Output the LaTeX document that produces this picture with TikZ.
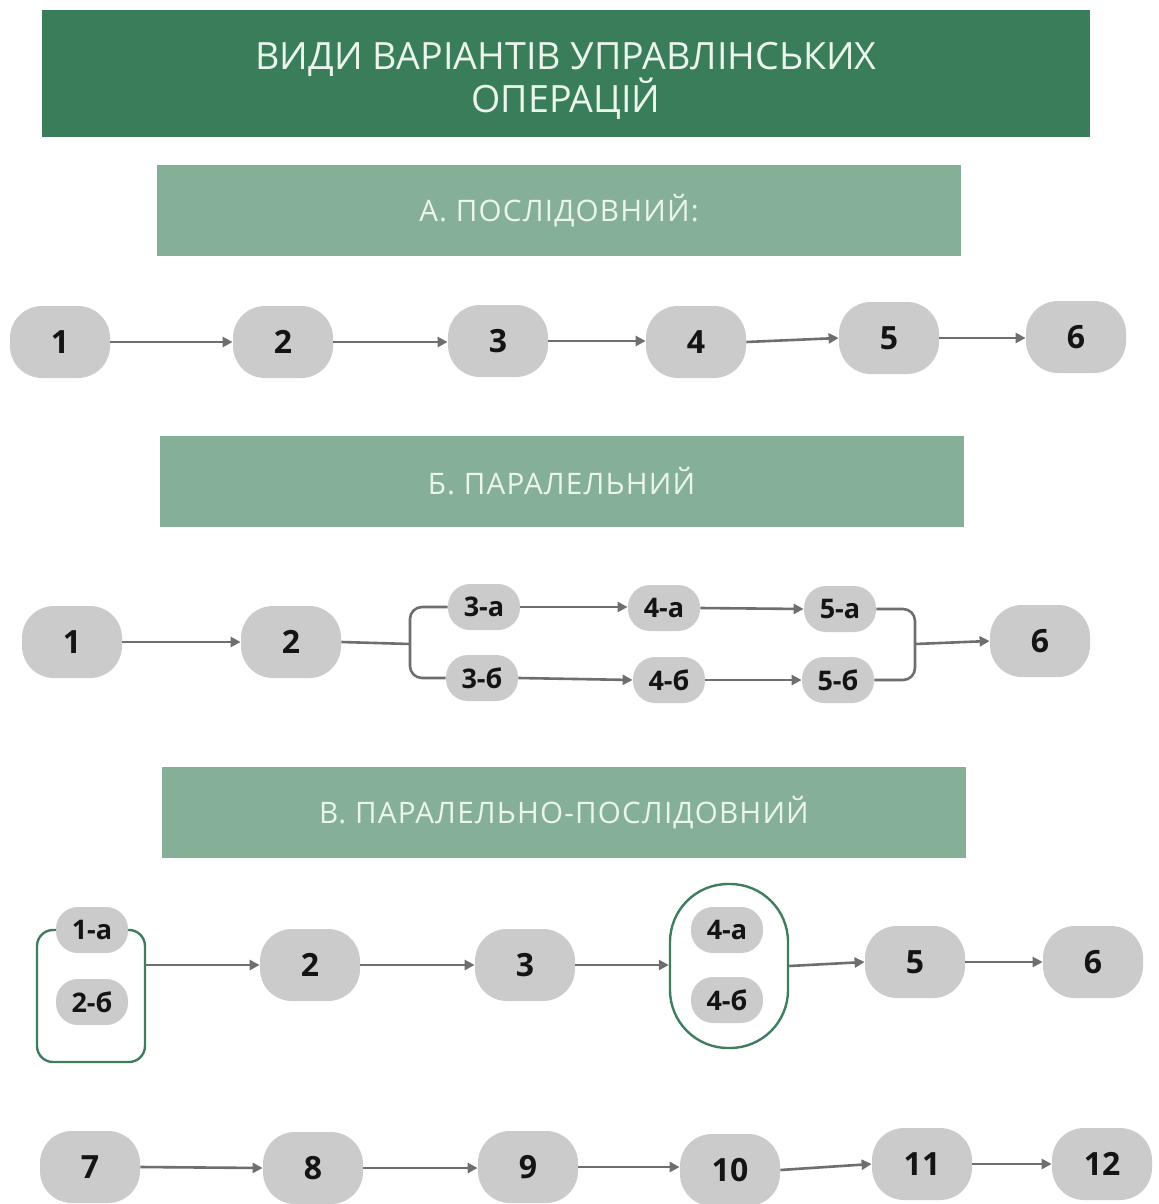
\documentclass[tikz,border=0pt]{standalone}
\usepackage{fontspec}
\setmainfont{Open Sans}
\newfontfamily\hdrfont[LetterSpace=4]{Open Sans}
\usetikzlibrary{arrows.meta}
\definecolor{dkgreen}{HTML}{3A7D5A}
\definecolor{ltgreen}{HTML}{85AF97}
\definecolor{boxgreen}{HTML}{3E7D5E}
\definecolor{nodegray}{HTML}{CBCBCB}
\definecolor{arrgray}{HTML}{6E6E6E}
\definecolor{hdrtext}{HTML}{EAF5EC}
\definecolor{numtext}{HTML}{141414}
\tikzset{
  bignode/.style={fill=nodegray, rounded corners=16pt, minimum width=50pt, minimum height=36pt, inner sep=0pt, text=numtext, font=\bfseries\fontsize{16}{16}\selectfont},
  smallnode/.style={fill=nodegray, rounded corners=11pt, minimum width=36pt, minimum height=23pt, inner sep=0pt, text=numtext, font=\bfseries\fontsize{13.5}{13.5}\selectfont},
  arr/.style={draw=arrgray, line width=1.3pt, -{Triangle[length=5pt,width=5pt]}},
  conn/.style={draw=arrgray, line width=1.3pt, rounded corners=6pt},
  sechdr/.style={fill=ltgreen, minimum width=402pt, minimum height=45.5pt, inner sep=0pt, text=hdrtext, font=\hdrfont\fontsize{14.8}{14.8}\selectfont},
  gbox/.style={draw=boxgreen, line width=1.2pt, fill=white, inner sep=0pt}
}
\begin{document}
\begin{tikzpicture}[x=0.5pt,y=-0.5pt]
\useasboundingbox (0,0) rectangle (1158,1204);
\fill[white] (0,0) rectangle (1158,1204);

% Title
\fill[dkgreen] (42,10) rectangle (1090,137);
\node[text=hdrtext, align=center, font=\fontsize{18.8}{20.5}\selectfont, inner sep=0pt] (title) at (566,81) {ВИДИ ВАРІАНТІВ УПРАВЛІНСЬКИХ\\ОПЕРАЦІЙ};

% Section A
\node[sechdr] (hA) at (559,210.5) {А. ПОСЛІДОВНИЙ:};
\node[bignode] (a1) at (60,342) {1};
\node[bignode] (a2) at (283,342) {2};
\node[bignode] (a3) at (498,341) {3};
\node[bignode] (a4) at (696,342) {4};
\node[bignode] (a5) at (889,338) {5};
\node[bignode] (a6) at (1076,337) {6};
\draw[arr] (a1.east) -- (a1 -| a2.west);
\draw[arr] (a2.east) -- (a2 -| a3.west);
\draw[arr] (a3.east) -- (a3 -| a4.west);
\draw[arr] (a4.east) -- (a5.west);
\draw[arr] (a5.east) -- (a5 -| a6.west);

% Section B
\node[sechdr] (hB) at (561.5,481.5) {Б. ПАРАЛЕЛЬНИЙ};
\node[bignode] (b1) at (72,642) {1};
\node[bignode] (b2) at (291,642) {2};
\node[bignode] (b6) at (1040,641) {6};
\node[smallnode] (b3a) at (484,607) {3-а};
\node[smallnode] (b4a) at (664,608) {4-а};
\node[smallnode] (b5a) at (840,609) {5-а};
\node[smallnode] (b3b) at (482,678) {3-б};
\node[smallnode] (b4b) at (669,680) {4-б};
\node[smallnode] (b5b) at (838,680) {5-б};
\coordinate (bl) at (410,644);
\coordinate (br) at (915,644);
\draw[arr] (b1.east) -- (b1 -| b2.west);
\draw[conn] (b2.east) -- (bl);
\draw[conn] (b3a.west) -| (bl) |- (b3b.west);
\draw[arr] (b3a.east) -- (b3a -| b4a.west);
\draw[arr] (b4a.east) -- (b5a.west);
\draw[arr] (b3b.east) -- (b4b.west);
\draw[arr] (b4b.east) -- (b4b -| b5b.west);
\draw[conn] (b5a.east) -| (br) |- (b5b.east);
\draw[arr] (br) -- (b6.west);

% Section C
\node[sechdr] (hC) at (564,812.5) {В. ПАРАЛЕЛЬНО-ПОСЛІДОВНИЙ};
\node[gbox, rounded corners=8pt, minimum width=54pt, minimum height=66pt] (cbox1) at (91,996) {};
\node[smallnode] (c1a) at (92,930) {1-а};
\node[smallnode] (c2b) at (92,1002) {2-б};
\node[bignode] (c2) at (310,965) {2};
\node[bignode] (c3) at (525,965) {3};
\node[gbox, rounded corners=29pt, minimum width=59pt, minimum height=82pt] (cbox2) at (729,966) {};
\node[smallnode] (c4a) at (727,930) {4-а};
\node[smallnode] (c4b) at (727,1000) {4-б};
\node[bignode] (c5) at (915,962) {5};
\node[bignode] (c6) at (1093,962) {6};
\draw[arr] (cbox1.east |- c2) -- (c2.west);
\draw[arr] (c2.east) -- (c3.west);
\draw[arr] (c3.east) -- (c3 -| cbox2.west);
\draw[arr] (cbox2.east) -- (c5.west);
\draw[arr] (c5.east) -- (c6.west);

% Bottom row
\node[bignode] (d7) at (90,1167) {7};
\node[bignode] (d8) at (313,1168) {8};
\node[bignode] (d9) at (528,1167) {9};
\node[bignode] (d10) at (730,1170) {10};
\node[bignode] (d11) at (922,1164) {11};
\node[bignode] (d12) at (1102,1164) {12};
\draw[arr] (d7.east) -- (d8.west);
\draw[arr] (d8.east) -- (d8 -| d9.west);
\draw[arr] (d9.east) -- (d9 -| d10.west);
\draw[arr] (d10.east) -- (d11.west);
\draw[arr] (d11.east) -- (d12.west);
\end{tikzpicture}
\end{document}
